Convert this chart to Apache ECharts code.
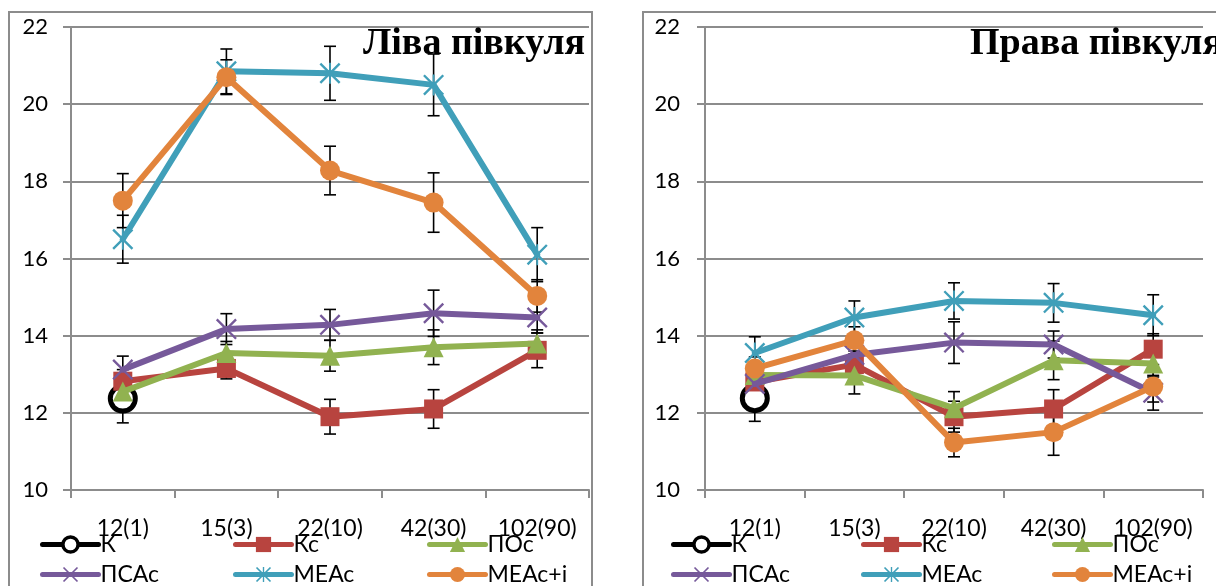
<!DOCTYPE html>
<html>
<head>
<meta charset="utf-8">
<script src="https://cdn.jsdelivr.net/npm/echarts@6/dist/echarts.min.js"></script>
<style>
html,body{margin:0;padding:0;background:#fff;}
#c{width:1216px;height:586px;}
</style>
</head>
<body>
<div id="c"></div>
<script>
// ---- data ----
const categories = ['12(1)', '15(3)', '22(10)', '42(30)', '102(90)'];
const yTicks = [10, 12, 14, 16, 18, 20, 22];
const seriesNames = ['К', 'Кс', 'ПОс', 'ПСАс', 'МЕАс', 'МЕАс+і'];
const panelTitles = ['Ліва півкуля', 'Права півкуля'];

// Left hemisphere
const K_L      = [12.37, null, null, null, null];
const K_L_err  = [0.63, null, null, null, null];
const Kc_L     = [12.82, 13.15, 11.90, 12.10, 13.62];
const Kc_L_err = [0.30, 0.27, 0.45, 0.50, 0.45];
const POc_L    = [12.55, 13.55, 13.48, 13.70, 13.80];
const POc_L_err= [0.30, 0.30, 0.40, 0.45, 0.35];
const PSAc_L   = [13.12, 14.17, 14.28, 14.58, 14.47];
const PSAc_L_err=[0.35, 0.40, 0.40, 0.60, 0.40];
const MEAc_L   = [16.50, 20.85, 20.80, 20.50, 16.10];
const MEAc_L_err=[0.62, 0.58, 0.70, 0.80, 0.70];
const MEAci_L  = [17.50, 20.70, 18.28, 17.45, 15.03];
const MEAci_L_err=[0.70, 0.45, 0.63, 0.77, 0.42];

// Right hemisphere
const K_R      = [12.38, null, null, null, null];
const K_R_err  = [0.60, null, null, null, null];
const Kc_R     = [12.80, 13.25, 11.90, 12.10, 13.65];
const Kc_R_err = [0.30, 0.35, 0.40, 0.50, 0.40];
const POc_R    = [12.98, 12.97, 12.12, 13.36, 13.28];
const POc_R_err= [0.30, 0.48, 0.43, 0.50, 0.35];
const PSAc_R   = [12.75, 13.50, 13.82, 13.77, 12.52];
const PSAc_R_err=[0.30, 0.35, 0.54, 0.35, 0.45];
const MEAc_R   = [13.55, 14.47, 14.90, 14.85, 14.53];
const MEAc_R_err=[0.42, 0.43, 0.47, 0.50, 0.53];
const MEAci_R  = [13.15, 13.88, 11.23, 11.50, 12.68];
const MEAci_R_err=[0.30, 0.35, 0.37, 0.60, 0.40];

const panels = [
  { vals: [K_L, Kc_L, POc_L, PSAc_L, MEAc_L, MEAci_L],
    errs: [K_L_err, Kc_L_err, POc_L_err, PSAc_L_err, MEAc_L_err, MEAci_L_err] },
  { vals: [K_R, Kc_R, POc_R, PSAc_R, MEAc_R, MEAci_R],
    errs: [K_R_err, Kc_R_err, POc_R_err, PSAc_R_err, MEAc_R_err, MEAci_R_err] }
];

// ---- styles ----
const colors = ['#000000', '#B8443F', '#91B250', '#76599A', '#409FB9', '#E2843C'];
const xPath = 'path://M0,1.6 L1.6,0 L20,18.4 L18.4,20 Z M18.4,0 L20,1.6 L1.6,20 L0,18.4 Z';
const starPath = 'path://M0,1.6 L1.6,0 L20,18.4 L18.4,20 Z M18.4,0 L20,1.6 L1.6,20 L0,18.4 Z M9.1,0 L10.9,0 L10.9,20 L9.1,20 Z';
const symbols = ['circle', 'rect', 'triangle', xPath, starPath, 'circle'];
const symbolSizes = [25, 19, 20, 21, 21, 20];
const lineWidths = [6, 6, 6, 6, 6, 6];

const grids = [
  { left: 71, top: 27, width: 518, height: 463 },
  { left: 705, top: 27, width: 498, height: 463 }
];
const yLabelMargin = [23, 25];
const gray = '#8C8C8C';
const labelFont = 'Lato, "Open Sans", sans-serif';

const xAxes = grids.map((g, i) => ({
  type: 'category', gridIndex: i, data: categories, boundaryGap: true,
  axisLine: { lineStyle: { color: gray, width: 2 } },
  axisTick: { show: true, length: 8, lineStyle: { color: gray, width: 2 } },
  axisLabel: { color: '#000', fontSize: 23, fontFamily: labelFont, margin: 27, interval: 0 },
  splitLine: { show: false }
}));
const yAxes = grids.map((g, i) => ({
  type: 'value', gridIndex: i, min: 10, max: 22, interval: 2,
  axisLine: { show: true, lineStyle: { color: gray, width: 2 } },
  axisTick: { show: true, length: 8, lineStyle: { color: gray, width: 2 } },
  axisLabel: { color: '#000', fontSize: 22, fontFamily: labelFont, margin: yLabelMargin[i],
    formatter: v => yTicks.indexOf(v) >= 0 ? String(v) : '' },
  splitLine: { show: true, lineStyle: { color: gray, width: 2 } }
}));

function errRender(params, api) {
  const x = api.value(0), lo = api.value(1), hi = api.value(2);
  const p1 = api.coord([x, lo]);
  const p2 = api.coord([x, hi]);
  const w = 6;
  const st = { stroke: '#000', lineWidth: 1.6 };
  return { type: 'group', children: [
    { type: 'line', shape: { x1: p1[0], y1: p1[1], x2: p2[0], y2: p2[1] }, style: st },
    { type: 'line', shape: { x1: p1[0] - w, y1: p1[1], x2: p1[0] + w, y2: p1[1] }, style: st },
    { type: 'line', shape: { x1: p2[0] - w, y1: p2[1], x2: p2[0] + w, y2: p2[1] }, style: st }
  ]};
}

const series = [];
panels.forEach((p, gi) => {
  seriesNames.forEach((name, si) => {
    const vals = p.vals[si], errs = p.errs[si];
    const errData = [];
    vals.forEach((v, k) => {
      if (v != null && errs[k] != null) errData.push([k, v - errs[k], v + errs[k]]);
    });
    series.push({
      type: 'custom', name: 'err_' + name + '_' + gi, xAxisIndex: gi, yAxisIndex: gi,
      data: errData, renderItem: errRender, encode: { x: 0, y: [1, 2] },
      z: 1, silent: true
    });
  });
  seriesNames.forEach((name, si) => {
    series.push({
      type: 'line', name: name, xAxisIndex: gi, yAxisIndex: gi,
      data: p.vals[si], connectNulls: false,
      symbol: symbols[si], symbolSize: symbolSizes[si], showAllSymbol: true, showSymbol: true,
      color: colors[si],
      lineStyle: { color: colors[si], width: lineWidths[si], cap: 'round', join: 'round' },
      itemStyle: si === 0
        ? { color: '#ffffff', borderColor: '#000000', borderWidth: 5 }
        : { color: colors[si], borderWidth: 0 },
      z: 2 + si, animation: false
    });
  });
});

const legendLefts = [[40, 233, 427], [671, 861, 1052]];
const legendTops = [533, 563];
const legends = [];
for (let gi = 0; gi < 2; gi++) {
  seriesNames.forEach((name, si) => {
    const row = Math.floor(si / 3), col = si % 3;
    legends.push({
      data: [name], left: legendLefts[gi][col], top: legendTops[row], padding: 0,
      itemWidth: 56, itemHeight: 19, itemGap: 0, selectedMode: false,
      lineStyle: { width: 5 },
      itemStyle: si === 0 ? { borderWidth: 3.5 } : {},
      textStyle: { color: '#000', fontSize: 23, fontFamily: labelFont, padding: [6, 0, 0, -3] }
    });
  });
}

const option = {
  backgroundColor: '#fff',
  animation: false,
  title: [
    { text: panelTitles[0], left: 363, top: 25, padding: 0,
      textStyle: { fontFamily: '"Liberation Serif", "Times New Roman", serif', fontWeight: 'bold', fontSize: 38, color: '#000' } },
    { text: panelTitles[1], left: 970, top: 25, padding: 0,
      textStyle: { fontFamily: '"Liberation Serif", "Times New Roman", serif', fontWeight: 'bold', fontSize: 38, color: '#000' } }
  ],
  graphic: [
    { type: 'rect', shape: { x: 9, y: 12, width: 583, height: 620 }, style: { fill: 'none', stroke: gray, lineWidth: 2 }, z: -1 },
    { type: 'rect', shape: { x: 643, y: 12, width: 620, height: 620 }, style: { fill: 'none', stroke: gray, lineWidth: 2 }, z: -1 }
  ],
  legend: legends,
  grid: grids,
  xAxis: xAxes,
  yAxis: yAxes,
  series: series
};

const chart = echarts.init(document.getElementById('c'), null, { renderer: 'canvas' });
chart.setOption(option);
</script>
</body>
</html>
